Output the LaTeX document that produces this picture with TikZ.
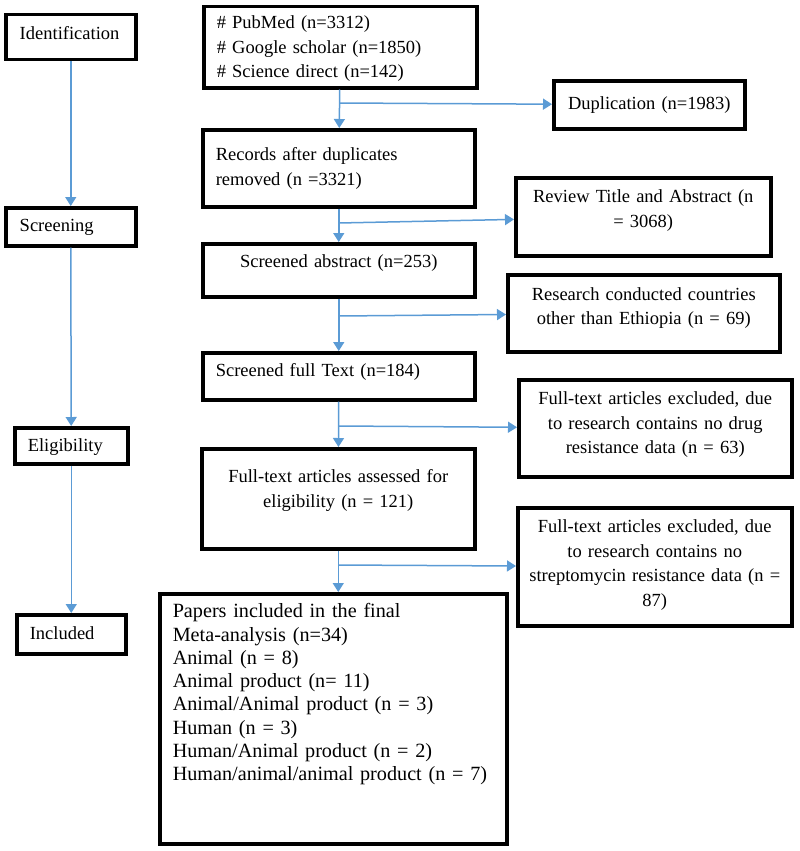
\documentclass[tikz,border=0pt]{standalone}
\usepackage{fontspec}
\setmainfont{Liberation Serif}
\usepackage{tikz}
\usetikzlibrary{arrows.meta}

\definecolor{flowblue}{RGB}{91,155,213}

\tikzset{
	box/.style={draw=black, line width=3.5pt, anchor=north west, inner ysep=0pt, inner xsep=13pt, font=\fontsize{18.5}{24.5}\selectfont},
	sidebox/.style={box, inner xsep=8pt, align=center},
	flow/.style={draw=flowblue, line width=1.5pt, -{Triangle[width=11pt,length=9pt]}},
}

\begin{document}
\begin{tikzpicture}[x=1pt, y=-1pt]
	\useasboundingbox (0,0) rectangle (800,851);

	% Stages
	\node[box, inner xsep=14pt, text width=102pt, text height=25pt, text depth=20pt, align=left] (ident) at (4,13) {Identification};
	\node[box, inner xsep=14pt, text width=102pt, text height=24pt, text depth=14pt, align=left] (screen) at (4,206) {Screening};
	\node[box, text width=87pt, text height=24pt, text depth=12pt, align=left] (elig) at (13,426) {Eligibility};
	\node[box, text width=83pt, text height=25pt, text depth=14pt, align=left] (incl) at (15,613) {Included};

	\draw[flow] (ident) -- (screen);
	\draw[flow] (screen) -- (elig);
	\draw[flow] (elig) -- (incl);

	% Main column
	\node[box, text width=247pt, text height=22pt, text depth=59pt, align=left] (src) at (202,5) {\# PubMed (n=3312)\\ \# Google scholar (n=1850)\\ \# Science direct (n=142)};
	\node[box, text width=246pt, text height=31pt, text depth=46pt, align=left] (rec) at (201,128) {Records after duplicates\\ removed (n =3321)};
	\node[box, text width=246pt, text height=24pt, text depth=29pt, align=center] (abs) at (201,242) {Screened abstract (n=253)};
	\node[box, text width=246pt, text height=24pt, text depth=23pt, align=left] (full) at (201,351) {Screened full Text (n=184)};
	\node[box, text width=247pt, text height=34pt, text depth=66pt, align=center] (assessed) at (200,447) {Full-text articles assessed for\\ eligibility (n = 121)};
	\node[box, text width=321pt, text height=24pt, text depth=226pt, align=left, font=\fontsize{20.2}{23.3}\selectfont] (papers) at (158,592) {Papers included in the final\\ Meta-analysis (n=34)\\ Animal (n = 8)\\ Animal product (n= 11)\\ Animal/Animal product (n = 3)\\ Human (n = 3)\\ Human/Animal product (n = 2)\\ Human/animal/animal product (n = 7)};

	\draw[flow] (src) -- (rec);
	\draw[flow] (rec) -- (abs);
	\draw[flow] (abs) -- (full);
	\draw[flow] (full) -- (assessed);
	\draw[flow] (assessed) -- (assessed |- papers.north);

	% Excluded records
	\node[sidebox, text width=175pt, text height=29pt, text depth=19pt] (dup) at (552,79) {Duplication (n=1983)};
	\node[sidebox, text width=239pt, text height=25pt, text depth=53pt] (rev) at (514,176) {Review Title and Abstract (n\\ = 3068)};
	\node[sidebox, text width=256pt, text height=25.5pt, text depth=51.5pt] (cnt) at (506,273) {Research conducted countries\\ other than Ethiopia (n = 69)};
	\node[sidebox, text width=257pt, text height=25pt, text depth=72pt] (nodrug) at (517,378) {Full-text articles excluded, due\\ to research contains no drug\\ resistance data (n = 63)};
	\node[sidebox, text width=258pt, text height=25pt, text depth=93pt] (nostrep) at (516,506) {Full-text articles excluded, due\\ to research contains no\\ streptomycin resistance data (n =\\ 87)};

	\coordinate (sp1) at (339,103);
	\coordinate (sp2) at (339,223);
	\coordinate (sp3) at (339,316);
	\coordinate (sp4) at (339,426);
	\coordinate (sp5) at (338,565);

	\draw[flow] (sp1) -- (dup);
	\draw[flow] (sp2) -- (rev);
	\draw[flow] (sp3) -- (cnt);
	\draw[flow] (sp4) -- (nodrug);
	\draw[flow] (sp5) -- (nostrep);

\end{tikzpicture}
\end{document}
